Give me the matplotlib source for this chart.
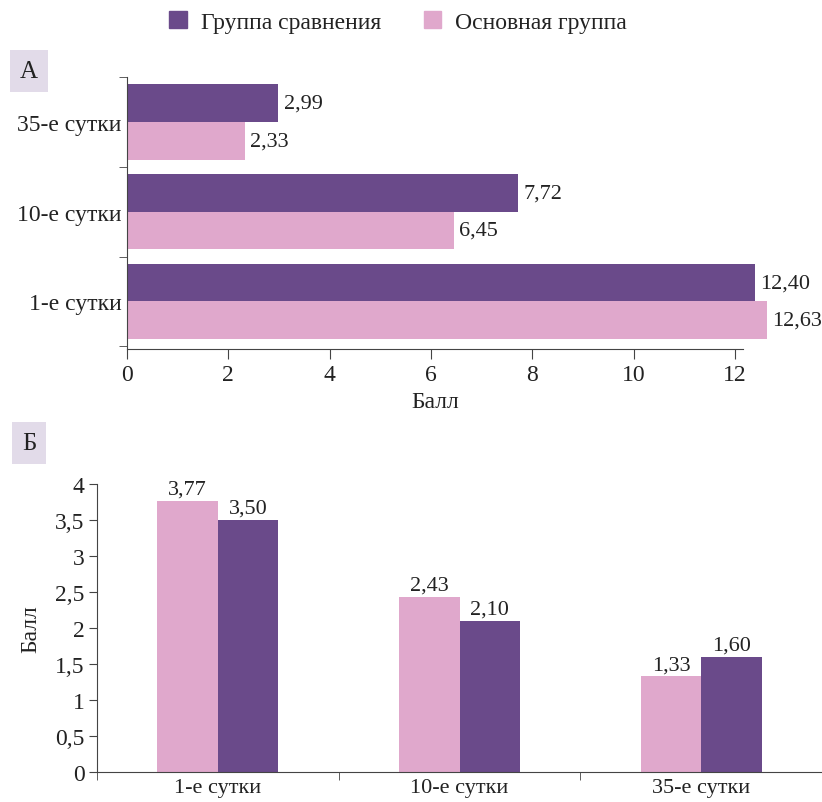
import numpy as np
from matplotlib import pyplot as plt
from matplotlib.patches import Patch

plt.rcParams['font.family'] = ['Liberation Serif', 'DejaVu Serif']
plt.rcParams['font.size'] = 17

# data
days_top = ['1-е сутки', '10-е сутки', '35-е сутки']
compare_top = [12.40, 7.72, 2.99]
main_top = [12.63, 6.45, 2.33]

days_bottom = ['1-е сутки', '10-е сутки', '35-е сутки']
main_bottom = [3.77, 2.43, 1.33]
compare_bottom = [3.50, 2.10, 1.60]

x_ticks_top = [0, 2, 4, 6, 8, 10, 12]
y_ticks_bottom = [0, 0.5, 1, 1.5, 2, 2.5, 3, 3.5, 4]

PURPLE = '#6a4a8a'
PINK = '#e0a8cc'
AXCOL = '#444444'
TXT = '#222222'

def fmt(v, nd=2):
    return ('%.*f' % (nd, v)).replace('.', ',')

fig = plt.figure(figsize=(8.22, 8.03), dpi=100)

# ---- panel A: horizontal bars
ax1 = fig.add_axes([127/822, 1-350/803, (743-127)/822, 272/803])
y = np.arange(len(days_top))
h = 0.42
b1 = ax1.barh(y + h/2, compare_top, height=h, color=PURPLE, clip_on=False)
b2 = ax1.barh(y - h/2, main_top, height=h, color=PINK, clip_on=False)
for bars in (b1, b2):
    for r in bars:
        ax1.text(r.get_width() + 0.1, r.get_y() + r.get_height()/2, fmt(r.get_width()),
                 va='center', ha='left', color=TXT, fontsize=16, clip_on=False)
ax1.set_xlim(0, 12.16)
ax1.set_ylim(-0.53, 2.5)
ax1.set_xticks(x_ticks_top)
ax1.set_xticklabels([str(t) for t in x_ticks_top])
ax1.set_yticks(y)
ax1.set_yticklabels(days_top)
ax1.set_yticks(np.arange(-0.5, 3, 1), minor=True)
ax1.tick_params(axis='y', which='major', length=0, pad=4, labelcolor=TXT)
ax1.tick_params(axis='y', which='minor', length=6, color=AXCOL)
ax1.tick_params(axis='x', length=7, color=AXCOL, pad=4, labelcolor=TXT)
ax1.set_xlabel('Балл', labelpad=4, color=TXT)
for s in ('top', 'right'):
    ax1.spines[s].set_visible(False)
for s in ('left', 'bottom'):
    ax1.spines[s].set_color(AXCOL)

# ---- panel B: vertical bars
ax2 = fig.add_axes([97/822, 1-773/803, (822-97)/822, 288/803])
x = np.arange(len(days_bottom))
w = 0.25
c1 = ax2.bar(x - w/2, main_bottom, width=w, color=PINK)
c2 = ax2.bar(x + w/2, compare_bottom, width=w, color=PURPLE)
for bars in (c1, c2):
    for r in bars:
        ax2.text(r.get_x() + r.get_width()/2, r.get_height() + 0.03, fmt(r.get_height()),
                 ha='center', va='bottom', color=TXT, fontsize=16)
ax2.set_xlim(-0.5, 2.5)
ax2.set_ylim(0, 4)
ax2.set_yticks(y_ticks_bottom)
ax2.set_yticklabels([fmt(t, 1).replace(',0', '') for t in y_ticks_bottom])
ax2.set_xticks(x)
ax2.set_xticklabels(days_bottom)
ax2.set_xticks(np.arange(-0.5, 3, 1), minor=True)
ax2.tick_params(axis='x', which='major', length=0, pad=4, labelcolor=TXT, labelsize=16)
ax2.tick_params(axis='x', which='minor', length=6, color=AXCOL)
ax2.tick_params(axis='y', length=6, color=AXCOL, pad=3, labelcolor=TXT)
ax2.set_ylabel('Балл', labelpad=10, color=TXT)
for s in ('top', 'right'):
    ax2.spines[s].set_visible(False)
for s in ('left', 'bottom'):
    ax2.spines[s].set_color(AXCOL)

# panel letters
for lbl, ytop in (('А', 55), ('Б', 427)):
    fig.text(29/822, 1-(ytop+17)/803, lbl, ha='center', va='center', fontsize=18,
             color=TXT, bbox=dict(boxstyle='square,pad=0.4', fc='#e2dbe9', ec='none'))

# legend
handles = [Patch(color=PURPLE, label='Группа сравнения'),
           Patch(color=PINK, label='Основная группа')]
fig.legend(handles=handles, loc='center', bbox_to_anchor=(398/822, 1-23/803), ncol=2,
           frameon=False, handlelength=0.75, handleheight=0.75, handletextpad=0.6,
           columnspacing=1.8, fontsize=17, labelcolor=TXT)

fig.savefig('out.png', dpi=100)
